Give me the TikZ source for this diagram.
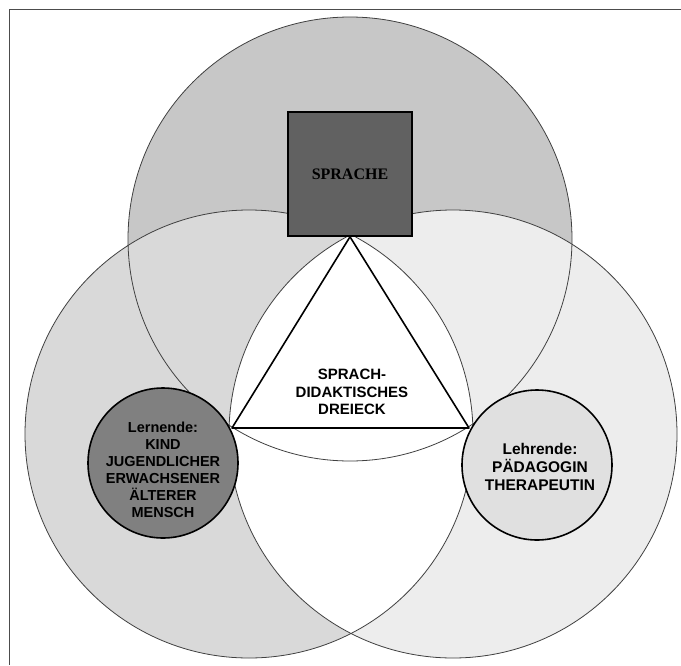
\documentclass[tikz,border=0pt]{standalone}
\usepackage{fontspec}
\setmainfont{Liberation Sans}
\newfontfamily\serifbf{Liberation Serif}
\usepackage{tikz}
\usetikzlibrary{positioning,calc}

\begin{document}
\begin{tikzpicture}[x=1pt, y=-1pt,
    bigring/.style={draw=black!75, line width=0.8pt},
    smallring/.style={circle, draw, line width=1.6pt, minimum size=150pt, inner sep=0pt},
    txt/.style={align=center, font=\bfseries\fontsize{15}{17.5}\selectfont}]
    \useasboundingbox (0,0) rectangle (681,665);
    \fill[white] (0,0) rectangle (681,665);
    \draw[black!70, line width=0.8pt] (681,9) -- (9,9) -- (9,665);

    % the three big circles
    \coordinate (topc) at (350,239);
    \coordinate (leftc) at (249,434);
    \coordinate (rightc) at (453,434);
    \fill[black!22] (topc) circle[radius=222pt];
    \fill[black!15] (leftc) circle[radius=224pt];
    \fill[black!7] (rightc) circle[radius=224pt];
    \begin{scope}
        \clip (leftc) circle[radius=224pt];
        \fill[white] (rightc) circle[radius=224pt];
    \end{scope}
    \draw[bigring] (topc) circle[radius=222pt];
    \draw[bigring] (leftc) circle[radius=224pt];
    \draw[bigring] (rightc) circle[radius=224pt];

    % corners
    \node[draw, line width=1.6pt, fill=black!62, minimum size=124pt, inner sep=0pt,
          font=\serifbf\bfseries\fontsize{16}{18}\selectfont] (sprache) at (350,174) {SPRACHE};
    \node[smallring, fill=black!50] (lernende) at (163,463) {};
    \node[smallring, fill=black!12] (lehrende) at (537,465) {};

    % triangle
    \coordinate (lv) at (232,428);
    \coordinate (rv) at (469,428);
    \draw[line width=1.6pt, line join=round] (sprache.south) -- (lv) -- (rv) -- cycle;

    \node[txt] (mitte) at (352,392) {SPRACH-\\DIDAKTISCHES\\DREIECK};
    \node[txt, font=\bfseries\fontsize{14.5}{17}\selectfont] (lernendetext) at (163,470)
        {Lernende:\\KIND\\JUGENDLICHER\\ERWACHSENER\\ÄLTERER\\MENSCH};
    \node[txt, font=\bfseries\fontsize{15.5}{18}\selectfont] (lehrendetext) at (540,467)
        {Lehrende:\\PÄDAGOGIN\\THERAPEUTIN};
\end{tikzpicture}
\end{document}
